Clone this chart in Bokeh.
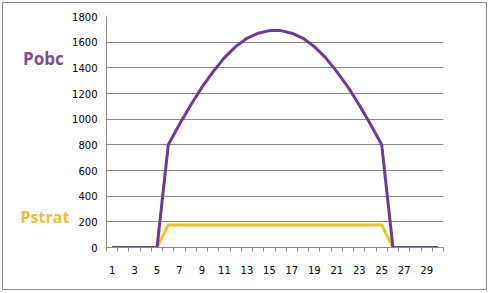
from bokeh.plotting import figure
from bokeh.layouts import row
from bokeh.models import Range1d, FixedTicker, Label, ColumnDataSource
from bokeh.embed import file_html
from bokeh.resources import INLINE

days = list(range(1, 31))
pobc = [0, 0, 0, 0, 0, 800, 960, 1110, 1250, 1370, 1480, 1565, 1630, 1670, 1690,
        1690, 1670, 1630, 1565, 1480, 1370, 1250, 1110, 960, 800, 0, 0, 0, 0, 0]
pstrat = [0, 0, 0, 0, 0] + [175] * 20 + [0, 0, 0, 0, 0]
x_tick_labels = [1, 3, 5, 7, 9, 11, 13, 15, 17, 19, 21, 23, 25, 27, 29]
y_ticks = [0, 200, 400, 600, 800, 1000, 1200, 1400, 1600, 1800]
series_names = ["Pobc", "Pstrat"]

PURPLE = "#6C3A98"
GOLD = "#F4C02A"
GRID = "#888888"

src = ColumnDataSource(dict(day=days, pobc=pobc, pstrat=pstrat))
yr = Range1d(0, 1800)

p = figure(width=417, height=286, output_backend="svg", toolbar_location=None,
           x_range=Range1d(0.5, 30.5), y_range=yr,
           min_border_left=37, min_border_right=43, min_border_top=13, min_border_bottom=42)
p.outline_line_color = None
p.background_fill_color = "white"
p.border_fill_color = "white"

p.line("day", "pstrat", source=src, line_color=GOLD, line_width=3)
p.line("day", "pobc", source=src, line_color=PURPLE, line_width=3)

minor = [d - 0.5 for d in days] + [30.5]
p.xaxis.ticker = FixedTicker(ticks=x_tick_labels, minor_ticks=minor)
p.xaxis.major_tick_out = 0
p.xaxis.major_tick_in = 0
p.xaxis.minor_tick_out = 4
p.xaxis.minor_tick_in = 0
p.xaxis.minor_tick_line_color = GRID
p.xaxis.axis_line_color = GRID
p.xaxis.major_label_standoff = 14
p.xaxis.major_label_text_font = "DejaVu Sans"
p.xaxis.major_label_text_font_size = "10px"
p.xaxis.major_label_text_color = "black"

p.yaxis.ticker = FixedTicker(ticks=y_ticks)
p.yaxis.major_tick_out = 0
p.yaxis.major_tick_in = 0
p.yaxis.minor_tick_out = 0
p.yaxis.minor_tick_in = 0
p.yaxis.axis_line_color = GRID
p.yaxis.major_label_standoff = 9
p.yaxis.major_label_text_font = "DejaVu Sans"
p.yaxis.major_label_text_font_size = "10px"
p.yaxis.major_label_text_color = "black"

p.xgrid.grid_line_color = None
p.ygrid.grid_line_color = GRID
p.ygrid.grid_line_width = 1

# side panel with the series names
side = figure(width=66, height=286, output_backend="svg", toolbar_location=None,
              x_range=Range1d(0, 1), y_range=yr,
              x_axis_location=None, y_axis_location=None,
              min_border_left=0, min_border_right=0, min_border_top=13, min_border_bottom=42)
side.outline_line_color = None
side.xgrid.grid_line_color = None
side.ygrid.grid_line_color = None
side.border_fill_color = "white"
side.background_fill_color = "white"
side.add_layout(Label(x=19.5, y=1475, x_units="screen", text=series_names[0],
                      text_color="#7A4B9E",
                      text_font="Open Sans", text_font_style="bold", text_font_size="17px",
                      text_align="left", text_baseline="alphabetic"))
side.add_layout(Label(x=17, y=240, x_units="screen", text=series_names[1],
                      text_color="#F0BE35",
                      text_font="Open Sans", text_font_style="bold", text_font_size="16px",
                      text_align="left", text_baseline="alphabetic"))

lay = row(side, p, spacing=0)
lay.styles = {"border": "1px solid #8a8a8a", "margin-left": "2px", "margin-top": "2px",
              "background-color": "white"}

open("out.html", "w").write(file_html(lay, INLINE))
